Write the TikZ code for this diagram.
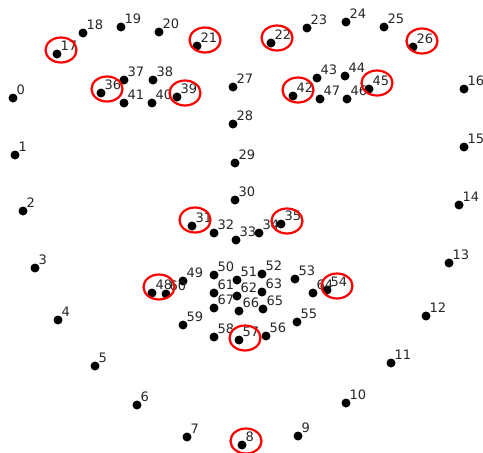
\documentclass[tikz,border=0pt]{standalone}
\usepackage{fontspec}
\setmainfont{DejaVu Sans}
\usetikzlibrary{shapes.geometric}

\begin{document}
\begin{tikzpicture}[
  x=1pt, y=-1pt,
  pt/.style={circle, fill=black, inner sep=0pt, minimum size=9pt},
  lbl/.style={anchor=base west, inner sep=0pt, text=black!85, font=\fontsize{13}{15}\selectfont},
  ring/.style={ellipse, draw=red, line width=2.2pt, minimum width=31pt, minimum height=25pt, inner sep=0pt}
]
\useasboundingbox (0,0) rectangle (483,453);
% jaw line
\node[pt, label={[lbl]north east:0}] (p0) at (13,98) {};
\node[pt, label={[lbl]north east:1}] (p1) at (15,155) {};
\node[pt, label={[lbl]north east:2}] (p2) at (23,211) {};
\node[pt, label={[lbl]north east:3}] (p3) at (35,268) {};
\node[pt, label={[lbl]north east:4}] (p4) at (58,320) {};
\node[pt, label={[lbl]north east:5}] (p5) at (95,366) {};
\node[pt, label={[lbl]north east:6}] (p6) at (137,405) {};
\node[pt, label={[lbl]north east:7}] (p7) at (187,437) {};
\node[pt, label={[lbl]north east:8}] (p8) at (242,445) {};
\node[pt, label={[lbl]north east:9}] (p9) at (298,436) {};
\node[pt, label={[lbl]north east:10}] (p10) at (346,403) {};
\node[pt, label={[lbl]north east:11}] (p11) at (391,363) {};
\node[pt, label={[lbl]north east:12}] (p12) at (426,316) {};
\node[pt, label={[lbl]north east:13}] (p13) at (449,263) {};
\node[pt, label={[lbl]north east:14}] (p14) at (459,205) {};
\node[pt, label={[lbl]north east:15}] (p15) at (464,147) {};
\node[pt, label={[lbl]north east:16}] (p16) at (464,89) {};
% eyebrows
\node[pt, label={[lbl]north east:17}] (p17) at (57,54) {};
\node[pt, label={[lbl]north east:18}] (p18) at (83,33) {};
\node[pt, label={[lbl]north east:19}] (p19) at (121,27) {};
\node[pt, label={[lbl]north east:20}] (p20) at (159,32) {};
\node[pt, label={[lbl]north east:21}] (p21) at (197,46) {};
\node[pt, label={[lbl]north east:22}] (p22) at (271,43) {};
\node[pt, label={[lbl]north east:23}] (p23) at (307,28) {};
\node[pt, label={[lbl]north east:24}] (p24) at (346,22) {};
\node[pt, label={[lbl]north east:25}] (p25) at (384,27) {};
\node[pt, label={[lbl]north east:26}] (p26) at (413,47) {};
% nose
\node[pt, label={[lbl]north east:27}] (p27) at (233,87) {};
\node[pt, label={[lbl]north east:28}] (p28) at (233,124) {};
\node[pt, label={[lbl]north east:29}] (p29) at (235,163) {};
\node[pt, label={[lbl]north east:30}] (p30) at (235,200) {};
\node[pt, label={[lbl]north east:31}] (p31) at (192,226) {};
\node[pt, label={[lbl]north east:32}] (p32) at (214,233) {};
\node[pt, label={[lbl]north east:33}] (p33) at (236,240) {};
\node[pt, label={[lbl]north east:34}] (p34) at (259,233) {};
\node[pt, label={[lbl]north east:35}] (p35) at (281,224) {};
% eyes
\node[pt, label={[lbl]north east:36}] (p36) at (101,93) {};
\node[pt, label={[lbl]north east:37}] (p37) at (124,80) {};
\node[pt, label={[lbl]north east:38}] (p38) at (153,80) {};
\node[pt, label={[lbl]north east:39}] (p39) at (177,97) {};
\node[pt, label={[lbl]north east:40}] (p40) at (152,103) {};
\node[pt, label={[lbl]north east:41}] (p41) at (124,103) {};
\node[pt, label={[lbl]north east:42}] (p42) at (293,96) {};
\node[pt, label={[lbl]north east:43}] (p43) at (317,78) {};
\node[pt, label={[lbl]north east:44}] (p44) at (345,76) {};
\node[pt, label={[lbl]north east:45}] (p45) at (369,89) {};
\node[pt, label={[lbl]north east:46}] (p46) at (347,99) {};
\node[pt, label={[lbl]north east:47}] (p47) at (320,99) {};
% mouth
\node[pt, label={[lbl]north east:48}] (p48) at (152,293) {};
\node[pt, label={[lbl]north east:49}] (p49) at (183,281) {};
\node[pt, label={[lbl]north east:50}] (p50) at (214,275) {};
\node[pt, label={[lbl]north east:51}] (p51) at (237,280) {};
\node[pt, label={[lbl]north east:52}] (p52) at (262,274) {};
\node[pt, label={[lbl]north east:53}] (p53) at (295,279) {};
\node[pt, label={[lbl]north east:54}] (p54) at (327,290) {};
\node[pt, label={[lbl]north east:55}] (p55) at (297,322) {};
\node[pt, label={[lbl]north east:56}] (p56) at (266,336) {};
\node[pt, label={[lbl]north east:57}] (p57) at (239,340) {};
\node[pt, label={[lbl]north east:58}] (p58) at (214,337) {};
\node[pt, label={[lbl]north east:59}] (p59) at (183,325) {};
\node[pt, label={[lbl]north east:60}] (p60) at (166,294) {};
\node[pt, label={[lbl]north east:61}] (p61) at (214,293) {};
\node[pt, label={[lbl]north east:62}] (p62) at (237,296) {};
\node[pt, label={[lbl]north east:63}] (p63) at (262,292) {};
\node[pt, label={[lbl]north east:64}] (p64) at (313,293) {};
\node[pt, label={[lbl]north east:65}] (p65) at (263,309) {};
\node[pt, label={[lbl]north east:66}] (p66) at (239,311) {};
\node[pt, label={[lbl]north east:67}] (p67) at (214,308) {};
% selected points
\node[ring] (r17) at (61,50) {};
\node[ring] (r21) at (205,40) {};
\node[ring] (r22) at (277,38) {};
\node[ring] (r26) at (422,41) {};
\node[ring] (r36) at (107,89) {};
\node[ring] (r39) at (185,93) {};
\node[ring] (r42) at (298,90) {};
\node[ring] (r45) at (377,83) {};
\node[ring] (r31) at (195,220) {};
\node[ring] (r35) at (287,221) {};
\node[ring] (r48) at (159,287) {};
\node[ring] (r54) at (337,286) {};
\node[ring] (r57) at (245,338) {};
\node[ring] (r8) at (246,441) {};
\end{tikzpicture}
\end{document}
